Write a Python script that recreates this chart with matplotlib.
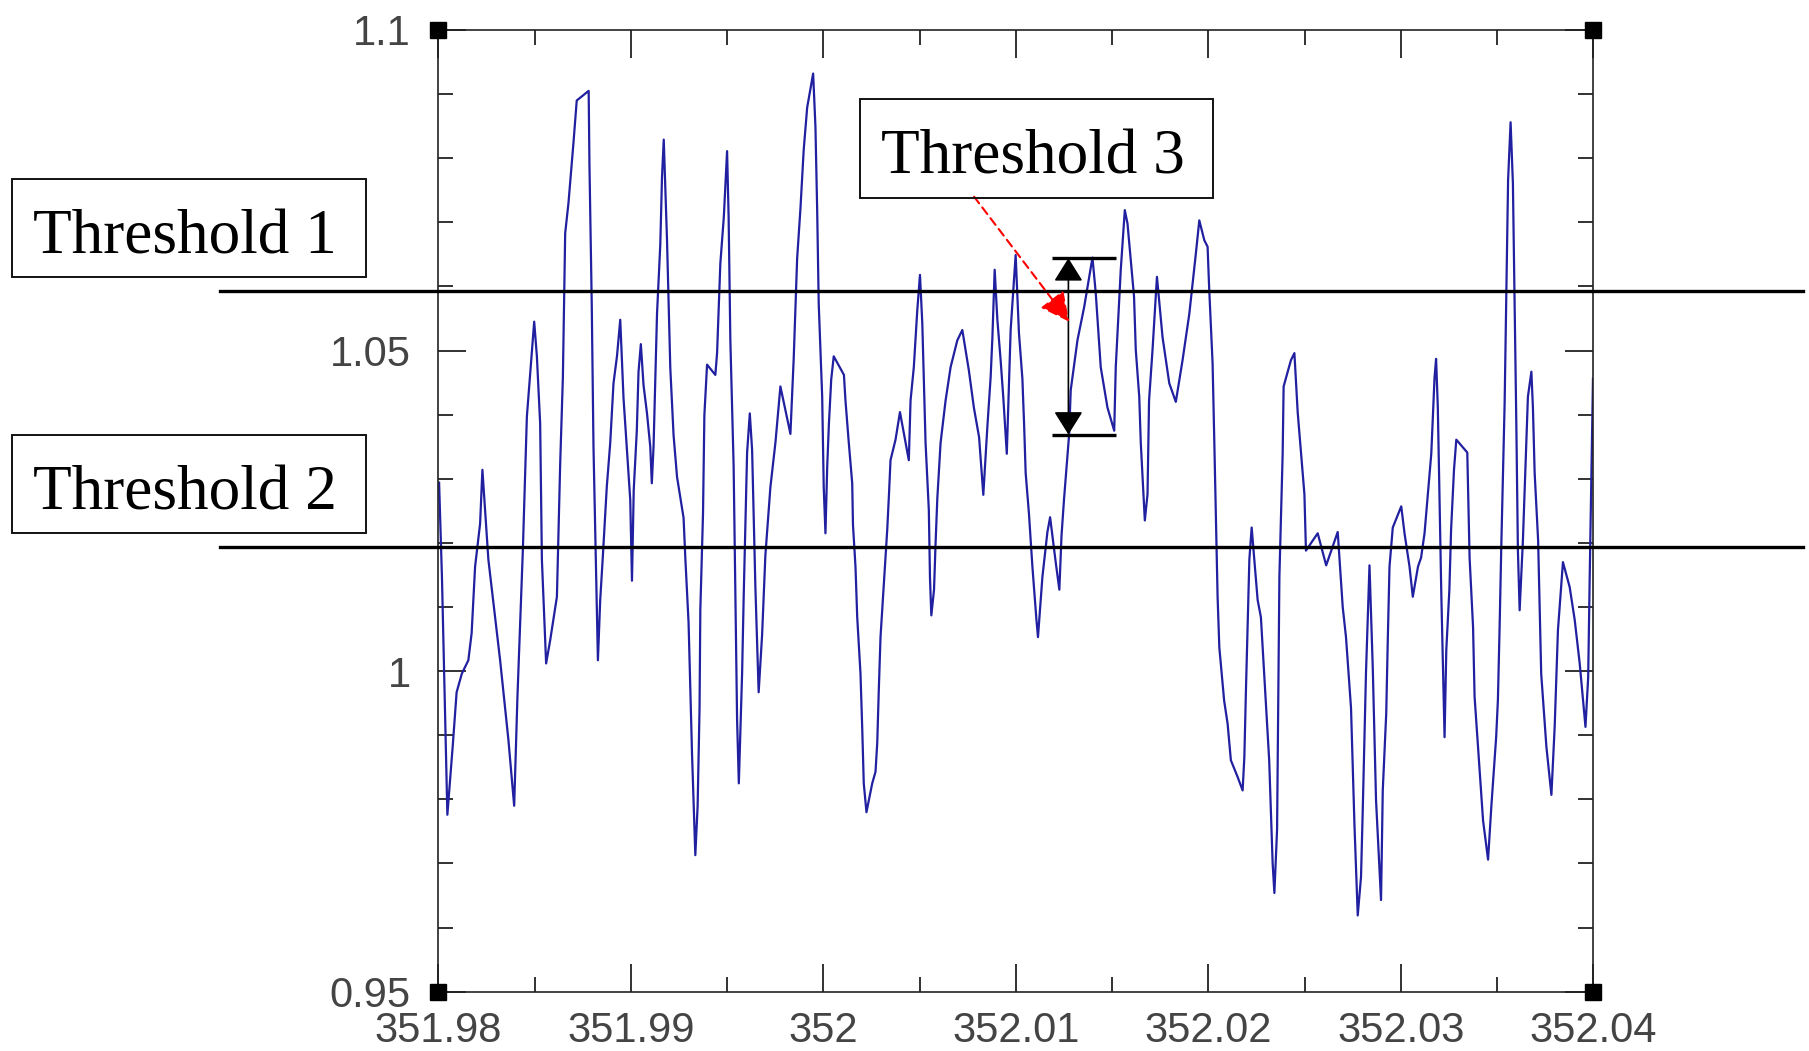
import numpy as np
import matplotlib.pyplot as plt
from matplotlib.patches import Rectangle
from matplotlib.ticker import MultipleLocator

# signal trace
t = np.array([
    351.98004, 351.98019, 351.98047, 351.98075, 351.98095, 351.98122, 351.98156, 351.98173,
    351.98191, 351.98217, 351.98229, 351.98260, 351.98321, 351.98364, 351.98394, 351.98411,
    351.98439, 351.98460, 351.98498, 351.98512, 351.98529, 351.98538, 351.98560, 351.98581,
    351.98616, 351.98633, 351.98647, 351.98659, 351.98676, 351.98702, 351.98719, 351.98781,
    351.98785, 351.98797, 351.98806, 351.98829, 351.98841, 351.98855, 351.98875, 351.98893,
    351.98910, 351.98928, 351.98945, 351.98962, 351.98980, 351.98997, 351.99006, 351.99015,
    351.99031, 351.99040, 351.99052, 351.99066, 351.99084, 351.99101, 351.99109, 351.99118,
    351.99127, 351.99136, 351.99153, 351.99162, 351.99171, 351.99188, 351.99205, 351.99222,
    351.99240, 351.99274, 351.99283, 351.99300, 351.99309, 351.99318, 351.99335, 351.99347,
    351.99357, 351.99361, 351.99375, 351.99382, 351.99396, 351.99439, 351.99448, 351.99465,
    351.99483, 351.99500, 351.99508, 351.99517, 351.99534, 351.99543, 351.99552, 351.99561,
    351.99578, 351.99586, 351.99604, 351.99618, 351.99630, 351.99639, 351.99647, 351.99664,
    351.99682, 351.99699, 351.99725, 351.99751, 351.99777, 351.99829, 351.99846, 351.99864,
    351.99881, 351.99898, 351.99916, 351.99947, 351.99959, 351.99968, 351.99976, 351.99994,
    352.00002, 352.00011, 352.00020, 352.00029, 352.00041, 352.00054, 352.00107, 352.00115,
    352.00132, 352.00150, 352.00154, 352.00167, 352.00176, 352.00193, 352.00202, 352.00210,
    352.00224, 352.00254, 352.00271, 352.00280, 352.00288, 352.00297, 352.00314, 352.00332,
    352.00341, 352.00349, 352.00375, 352.00398, 352.00444, 352.00453, 352.00470, 352.00488,
    352.00502, 352.00514, 352.00531, 352.00548, 352.00554, 352.00561, 352.00575, 352.00583,
    352.00592, 352.00609, 352.00635, 352.00661, 352.00696, 352.00722, 352.00756, 352.00782,
    352.00809, 352.00831, 352.00852, 352.00869, 352.00878, 352.00890, 352.00904, 352.00921,
    352.00935, 352.00953, 352.00973, 352.00990, 352.00999, 352.01016, 352.01034, 352.01043,
    352.01051, 352.01068, 352.01086, 352.01107, 352.01115, 352.01138, 352.01164, 352.01178,
    352.01207, 352.01226, 352.01237, 352.01250, 352.01277, 352.01285, 352.01320, 352.01355,
    352.01398, 352.01415, 352.01441, 352.01476, 352.01511, 352.01519, 352.01545, 352.01566,
    352.01580, 352.01614, 352.01623, 352.01641, 352.01649, 352.01670, 352.01684, 352.01692,
    352.01710, 352.01733, 352.01762, 352.01797, 352.01831, 352.01866, 352.01901, 352.01935,
    352.01953, 352.01979, 352.01996, 352.02004, 352.02022, 352.02031, 352.02048, 352.02057,
    352.02082, 352.02100, 352.02117, 352.02152, 352.02178, 352.02187, 352.02195, 352.02204,
    352.02213, 352.02225, 352.02256, 352.02273, 352.02300, 352.02316, 352.02334, 352.02343,
    352.02357, 352.02363, 352.02369, 352.02386, 352.02391, 352.02429, 352.02447, 352.02464,
    352.02481, 352.02499, 352.02507, 352.02568, 352.02612, 352.02672, 352.02698, 352.02715,
    352.02741, 352.02759, 352.02776, 352.02793, 352.02802, 352.02819, 352.02837, 352.02854,
    352.02871, 352.02897, 352.02906, 352.02924, 352.02932, 352.02941, 352.02958, 352.03002,
    352.03019, 352.03045, 352.03062, 352.03089, 352.03105, 352.03123, 352.03140, 352.03158,
    352.03175, 352.03183, 352.03192, 352.03201, 352.03210, 352.03227, 352.03236, 352.03252,
    352.03261, 352.03276, 352.03288, 352.03345, 352.03357, 352.03375, 352.03383, 352.03401,
    352.03427, 352.03453, 352.03470, 352.03495, 352.03504, 352.03513, 352.03522, 352.03539,
    352.03548, 352.03557, 352.03570, 352.03582, 352.03591, 352.03600, 352.03608, 352.03617,
    352.03634, 352.03651, 352.03660, 352.03678, 352.03686, 352.03695, 352.03713, 352.03721,
    352.03729, 352.03756, 352.03782, 352.03799, 352.03816, 352.03842, 352.03877, 352.03903,
    352.03929, 352.03959, 352.03973, 352.03981, 352.03998,
])
signal = np.array([
    1.0294, 1.0145, 0.9776, 0.9884, 0.9967, 0.9996, 1.0017, 1.0059,
    1.0163, 1.0230, 1.0314, 1.0174, 1.0017, 0.9893, 0.9790, 0.9960,
    1.0188, 1.0397, 1.0545, 1.0491, 1.0386, 1.0174, 1.0012, 1.0048,
    1.0116, 1.0323, 1.0458, 1.0683, 1.0730, 1.0824, 1.0890, 1.0905,
    1.0791, 1.0572, 1.0350, 1.0017, 1.0111, 1.0181, 1.0287, 1.0356,
    1.0449, 1.0491, 1.0548, 1.0426, 1.0345, 1.0267, 1.0141, 1.0282,
    1.0375, 1.0467, 1.0510, 1.0446, 1.0402, 1.0350, 1.0293, 1.0350,
    1.0455, 1.0557, 1.0665, 1.0771, 1.0829, 1.0672, 1.0473, 1.0368,
    1.0303, 1.0239, 1.0177, 1.0075, 0.9972, 0.9870, 0.9713, 0.9790,
    0.9943, 1.0095, 1.0246, 1.0399, 1.0478, 1.0462, 1.0496, 1.0636,
    1.0708, 1.0811, 1.0708, 1.0516, 1.0320, 1.0122, 0.9924, 0.9825,
    0.9996, 1.0113, 1.0341, 1.0402, 1.0345, 1.0235, 1.0131, 0.9967,
    1.0057, 1.0181, 1.0287, 1.0356, 1.0444, 1.0370, 1.0487, 1.0644,
    1.0721, 1.0813, 1.0879, 1.0932, 1.0849, 1.0719, 1.0573, 1.0428,
    1.0287, 1.0215, 1.0318, 1.0386, 1.0455, 1.0491, 1.0462, 1.0422,
    1.0357, 1.0293, 1.0228, 1.0163, 1.0084, 0.9996, 0.9911, 0.9825,
    0.9780, 0.9825, 0.9843, 0.9888, 0.9970, 1.0053, 1.0134, 1.0221,
    1.0276, 1.0329, 1.0361, 1.0404, 1.0329, 1.0422, 1.0474, 1.0563,
    1.0618, 1.0543, 1.0356, 1.0251, 1.0145, 1.0087, 1.0127, 1.0199,
    1.0269, 1.0356, 1.0422, 1.0474, 1.0516, 1.0532, 1.0469, 1.0411,
    1.0365, 1.0275, 1.0381, 1.0458, 1.0519, 1.0626, 1.0548, 1.0485,
    1.0426, 1.0339, 1.0532, 1.0609, 1.0649, 1.0528, 1.0456, 1.0384,
    1.0309, 1.0246, 1.0163, 1.0080, 1.0053, 1.0147, 1.0217, 1.0240,
    1.0170, 1.0127, 1.0210, 1.0267, 1.0370, 1.0438, 1.0516, 1.0568,
    1.0645, 1.0590, 1.0474, 1.0411, 1.0375, 1.0474, 1.0626, 1.0719,
    1.0698, 1.0584, 1.0501, 1.0428, 1.0356, 1.0235, 1.0276, 1.0422,
    1.0501, 1.0615, 1.0521, 1.0449, 1.0420, 1.0485, 1.0557, 1.0651,
    1.0703, 1.0672, 1.0662, 1.0599, 1.0480, 1.0357, 1.0116, 1.0037,
    0.9954, 0.9918, 0.9861, 0.9835, 0.9814, 0.9866, 0.9967, 1.0069,
    1.0174, 1.0224, 1.0111, 1.0084, 0.9943, 0.9861, 0.9700, 0.9654,
    0.9753, 0.9943, 1.0147, 1.0339, 1.0444, 1.0485, 1.0496, 1.0404,
    1.0341, 1.0276, 1.0188, 1.0215, 1.0165, 1.0217, 1.0100, 1.0053,
    0.9943, 0.9760, 0.9619, 0.9679, 0.9783, 0.9999, 1.0165, 1.0006,
    0.9799, 0.9643, 0.9814, 0.9934, 1.0048, 1.0163, 1.0224, 1.0257,
    1.0215, 1.0163, 1.0116, 1.0163, 1.0177, 1.0215, 1.0276, 1.0339,
    1.0458, 1.0487, 1.0411, 1.0267, 1.0122, 0.9897, 1.0033, 1.0127,
    1.0221, 1.0314, 1.0361, 1.0341, 1.0177, 1.0069, 0.9960, 0.9882,
    0.9767, 0.9706, 0.9789, 0.9897, 0.9954, 1.0069, 1.0199, 1.0417,
    1.0595, 1.0766, 1.0856, 1.0761, 1.0572, 1.0381, 1.0188, 1.0095,
    1.0204, 1.0352, 1.0428, 1.0467, 1.0411, 1.0309, 1.0204, 1.0100,
    0.9996, 0.9882, 0.9807, 0.9913, 1.0064, 1.0170, 1.0131, 1.0080,
    1.0012, 0.9913, 0.9990, 1.0147, 1.0456,
])

threshold_levels = [1.0593, 1.0194]
threshold_names = ['Threshold 1', 'Threshold 2']
band_low = 1.0369
band_high = 1.0644
band_x = [352.01187, 352.01520]
band_arrow_x = 352.01273
pointer_from = (352.00783, 1.0740)
pointer_to = (352.01277, 1.0545)

xticks = [351.98, 351.99, 352.0, 352.01, 352.02, 352.03, 352.04]
xticklabels = ['351.98', '351.99', '352', '352.01', '352.02', '352.03', '352.04']
yticks = [0.95, 1.0, 1.05, 1.1]
yticklabels = ['0.95', '1', '1.05', '1.1']

fig = plt.figure(figsize=(18.09, 10.51), dpi=100)
ax = fig.add_axes([0.2423, 0.0564, 0.6385, 0.9151])

ax.plot(t, signal, color='#2020a0', lw=1.6)

ax.set_xlim(351.98, 352.04)
ax.set_ylim(0.95, 1.1)
ax.set_xticks(xticks, xticklabels)
ax.set_yticks(yticks, yticklabels)
ax.xaxis.set_minor_locator(MultipleLocator(0.005))
ax.yaxis.set_minor_locator(MultipleLocator(0.01))
ax.tick_params(which='both', direction='in', top=True, right=True,
               color='#222222', width=1.3)
ax.tick_params(which='major', length=20, labelsize=30, labelcolor='#444444')
ax.tick_params(which='minor', length=10.5)
ax.tick_params(axis='x', pad=14)
ax.tick_params(axis='y', pad=20)
for lab in ax.get_xticklabels() + ax.get_yticklabels():
    lab.set_family('Liberation Sans')
for sp in ax.spines.values():
    sp.set_color('#222222')
    sp.set_linewidth(1.2)

# black squares on the corners
ax.plot([0, 1, 0, 1], [0, 0, 1, 1], 's', color='black', ms=12,
        transform=ax.transAxes, clip_on=False, zorder=6)

# threshold lines run past the frame
for lvl in threshold_levels:
    ax.axhline(lvl, xmin=-0.189, xmax=1.1816, color='black', lw=2.4,
               clip_on=False, zorder=5)

# threshold 3 band
ax.hlines([band_low, band_high], band_x[0], band_x[1], color='black', lw=2.4, zorder=5)
ax.annotate('', xy=(band_arrow_x, band_high), xytext=(band_arrow_x, band_low),
            arrowprops=dict(arrowstyle='<|-|>,head_length=0.4,head_width=0.25',
                            color='black', lw=1.2,
                            mutation_scale=36, shrinkA=0, shrinkB=0), zorder=5)
ax.annotate('', xy=pointer_to, xytext=pointer_from,
            arrowprops=dict(arrowstyle='-|>,head_length=0.6,head_width=0.3',
                            color='red', lw=1.5, linestyle=(0, (4, 2.5)),
                            mutation_scale=30, shrinkA=0, shrinkB=0), zorder=6)

# label boxes
boxes = [
    (threshold_names[0], (0.0064, 0.7365, 0.1958, 0.0934), (0.1020, 0.7592)),
    (threshold_names[1], (0.0064, 0.4929, 0.1958, 0.0934), (0.1020, 0.5154)),
    ('Threshold 3', (0.4754, 0.8119, 0.1953, 0.0939), (0.5712, 0.8351)),
]
for text, (bx, by, bw, bh), (tx, ty) in boxes:
    fig.add_artist(Rectangle((bx, by), bw, bh, transform=fig.transFigure,
                             fill=False, edgecolor='#111111', lw=1.4))
    fig.text(tx, ty, text, family='Liberation Serif', fontsize=45.5,
             ha='center', va='baseline', color='black')

fig.savefig('out.png', dpi=100)
